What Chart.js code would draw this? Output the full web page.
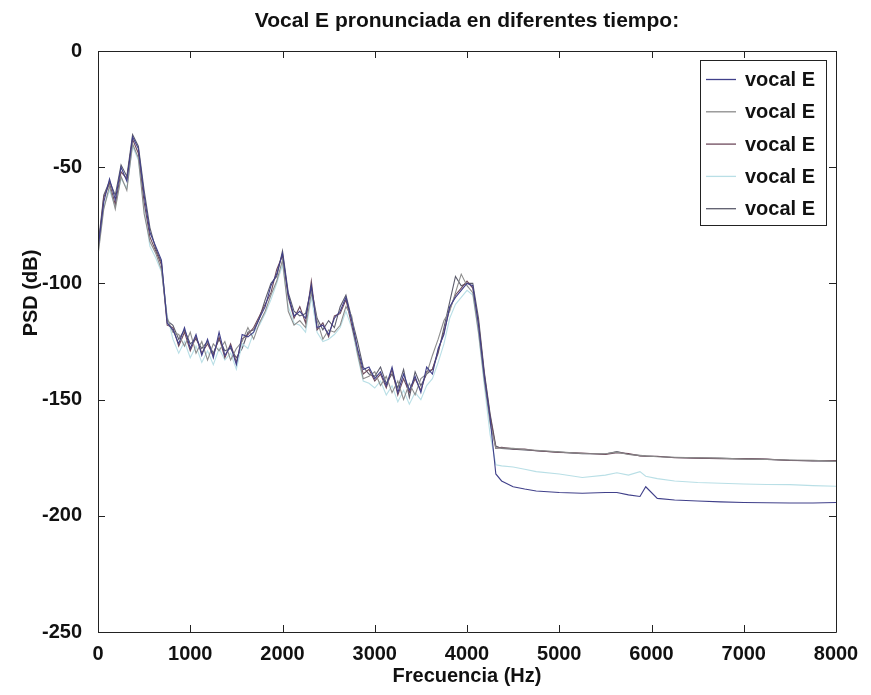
<!DOCTYPE html>
<html>
<head>
<meta charset="utf-8">
<title>Vocal E pronunciada en diferentes tiempo</title>
<script src="https://cdn.jsdelivr.net/npm/chart.js@4.4.1/dist/chart.umd.min.js"></script>
<style>
  html, body { margin: 0; padding: 0; background: #fff; }
  canvas { display: block; }
</style>
</head>
<body>
<canvas id="psdChart" width="871" height="695"></canvas>
<script>
// frequency bins (Hz): 62.5 Hz steps up to the cut-off, coarser in the flat tail
const freqs = [
  0, 62.5, 125, 187.5, 250, 312.5, 375, 437.5, 500, 562.5,
  625, 687.5, 750, 812.5, 875, 937.5, 1000, 1062.5, 1125, 1187.5,
  1250, 1312.5, 1375, 1437.5, 1500, 1562.5, 1625, 1687.5, 1750, 1812.5,
  1875, 1937.5, 2000, 2062.5, 2125, 2187.5, 2250, 2312.5, 2375, 2437.5,
  2500, 2562.5, 2625, 2687.5, 2750, 2812.5, 2875, 2937.5, 3000, 3062.5,
  3125, 3187.5, 3250, 3312.5, 3375, 3437.5, 3500, 3562.5, 3625, 3687.5,
  3750, 3812.5, 3875, 3937.5, 4000, 4062.5, 4125, 4187.5, 4250, 4312.5,
  4375, 4500, 4625, 4750, 5000, 5250, 5500, 5625, 5750, 5875,
  5937.5, 6062.5, 6250, 6500, 6750, 7000, 7250, 7500, 7750, 8000
];

// PSD in dB, one array per recording
const vocal1 = [
  -85, -65, -55, -64, -50, -56, -37, -42, -62, -78,
  -84, -90, -117, -120, -126, -119, -128, -122, -131, -124,
  -132, -121, -131, -127, -135, -122, -123, -121, -115, -110,
  -101, -96, -87, -105, -114, -112, -115, -101, -119, -118,
  -122, -115, -112, -106, -116, -128, -137, -136, -141, -138,
  -144, -136, -147, -139, -146, -140, -147, -136, -139, -128,
  -122, -110, -106, -103, -100, -101, -118, -140, -158, -182,
  -185, -187.5, -188.5, -189.3, -190, -190.3, -190, -190, -191, -191.7,
  -187.5, -192.5, -193.2, -193.6, -194, -194.3, -194.4, -194.5, -194.5, -194.3
];
const vocal2 = [
  -88, -68, -58, -68, -54, -60, -40, -46, -70, -82,
  -87, -94, -115, -121, -122, -127, -121, -130, -125, -133,
  -126, -129, -125, -133, -128, -125, -119, -124, -117, -112,
  -105, -99, -90, -112, -118, -116, -119, -104, -116, -124,
  -120, -121, -118, -110, -114, -130, -141, -140, -138, -144,
  -140, -147, -142, -150, -143, -148, -141, -139, -131, -124,
  -116, -112, -104, -96, -101, -104, -121, -142, -160, -171,
  -170.8, -171, -171.5, -171.8, -172.5, -173.2, -173.3, -172.6, -173.6, -174,
  -174.2, -174.6, -174.8, -175, -175.2, -175.6, -175.8, -176, -176.1, -176.6
];
const vocal3 = [
  -86, -63, -57, -66, -52, -55, -38, -44, -65, -80,
  -86, -92, -118, -119, -127, -121, -129, -123, -130, -126,
  -131, -123, -132, -126, -134, -124, -122, -119, -114, -109,
  -104, -94, -88, -106, -115, -110, -117, -99, -120, -117,
  -123, -114, -113, -107, -118, -129, -139, -137, -142, -139,
  -145, -137, -148, -141, -147, -141, -146, -138, -137, -129,
  -121, -111, -105, -102, -99, -102, -117, -139, -157, -171,
  -170.5, -171.2, -171.3, -172, -172.7, -173, -173.6, -172.8, -173.2, -174.2,
  -174.4, -174.4, -175, -175.2, -175.4, -175.4, -175.6, -176.2, -176.3, -176.2
];
const vocal4 = [
  -87, -67, -60, -67, -55, -59, -41, -47, -68, -84,
  -89, -95, -114, -124, -130, -125, -132, -127, -134, -129,
  -135, -128, -133, -130, -137, -126, -128, -121, -118, -113,
  -107, -100, -92, -110, -117, -118, -121, -106, -121, -125,
  -124, -122, -119, -112, -119, -131, -142, -143, -145, -142,
  -148, -144, -151, -146, -152, -147, -150, -144, -141, -134,
  -126, -115, -109, -106, -103, -105, -122, -144, -165, -178,
  -178.5, -179, -180, -181, -182, -183.5, -182.5, -181.5, -182.5, -181,
  -183, -184, -185, -185.7, -186, -186.3, -186.5, -186.6, -187, -187.3
];
const vocal5 = [
  -84, -62, -56, -62, -49, -54, -36, -41, -60, -76,
  -85, -91, -116, -118, -124, -120, -126, -124, -128, -125,
  -130, -124, -129, -128, -132, -128, -121, -120, -115, -107,
  -100, -97, -86, -104, -112, -114, -113, -102, -115, -120,
  -116, -119, -110, -105, -115, -125, -136, -139, -140, -136,
  -143, -139, -145, -137, -149, -138, -144, -139, -137, -130,
  -119, -108, -97, -101, -100, -100, -115, -138, -156, -170,
  -171, -171.3, -171.7, -172, -172.6, -173.3, -173.4, -172.4, -173.5, -174.1,
  -174.3, -174.5, -174.9, -175.1, -175.3, -175.5, -175.7, -176.1, -176.4, -176.5
];

const seriesLabels = ['vocal E', 'vocal E', 'vocal E', 'vocal E', 'vocal E'];
const seriesColors = ['#40408a', '#8c8c8c', '#6e4a5c', '#b9dfe6', '#5c5c6c'];
const allSeries = [vocal1, vocal2, vocal3, vocal4, vocal5];

const FONT = "'Liberation Sans', Arial, sans-serif";

// MATLAB-like frame: box, inward ticks, title, y label and legend inside the axes
const matlabAxes = {
  id: 'matlabAxes',
  afterDatasetsDraw(chart) {
    const ctx = chart.ctx;
    const a = chart.chartArea;
    const xs = chart.scales.x;
    const ys = chart.scales.y;
    ctx.save();
    ctx.strokeStyle = '#222';
    ctx.lineWidth = 1;
    ctx.beginPath();
    ctx.rect(Math.round(a.left) + 0.5, Math.round(a.top) + 0.5,
             Math.round(a.right - a.left), Math.round(a.bottom - a.top));
    xs.ticks.forEach(t => {
      const px = Math.round(xs.getPixelForValue(t.value)) + 0.5;
      ctx.moveTo(px, a.bottom); ctx.lineTo(px, a.bottom - 7);
      ctx.moveTo(px, a.top); ctx.lineTo(px, a.top + 7);
    });
    ys.ticks.forEach(t => {
      const py = Math.round(ys.getPixelForValue(t.value)) + 0.5;
      ctx.moveTo(a.left, py); ctx.lineTo(a.left + 7, py);
      ctx.moveTo(a.right, py); ctx.lineTo(a.right - 7, py);
    });
    ctx.stroke();

    // title
    ctx.fillStyle = '#111';
    ctx.font = 'bold 21px ' + FONT;
    ctx.textAlign = 'center';
    ctx.textBaseline = 'middle';
    ctx.fillText('Vocal E pronunciada en diferentes tiempo:', (a.left + a.right) / 2, 21);

    // y label
    ctx.save();
    ctx.translate(31, 293);
    ctx.rotate(-Math.PI / 2);
    ctx.font = 'bold 20px ' + FONT;
    ctx.fillText('PSD (dB)', 0, 0);
    ctx.restore();

    // legend
    const box = { left: 700, top: 60, right: 826, bottom: 225 };
    ctx.fillStyle = '#fff';
    ctx.fillRect(box.left, box.top, box.right - box.left, box.bottom - box.top);
    ctx.strokeStyle = '#222';
    ctx.strokeRect(box.left + 0.5, box.top + 0.5, box.right - box.left, box.bottom - box.top);
    ctx.font = 'bold 20px ' + FONT;
    ctx.textAlign = 'left';
    chart.data.datasets.forEach((ds, i) => {
      const y = box.top + 19.5 + i * 32.3;
      ctx.strokeStyle = ds.borderColor;
      ctx.lineWidth = 1.3;
      ctx.beginPath();
      ctx.moveTo(706, y); ctx.lineTo(736, y);
      ctx.stroke();
      ctx.fillStyle = '#111';
      ctx.fillText(ds.label, 745, y + 1);
    });
    ctx.restore();
  }
};

const datasets = allSeries.map((vals, i) => ({
  label: seriesLabels[i],
  data: freqs.map((f, j) => ({ x: f, y: vals[j] })),
  borderColor: seriesColors[i],
  borderWidth: 1.1,
  pointRadius: 0,
  tension: 0,
  fill: false
}));

new Chart(document.getElementById('psdChart'), {
  type: 'line',
  data: { datasets },
  options: {
    responsive: false,
    animation: false,
    devicePixelRatio: 1,
    layout: { padding: { top: 51, right: 35, left: 0, bottom: 0 } },
    plugins: {
      legend: { display: false },
      title: { display: false },
      tooltip: { enabled: false }
    },
    scales: {
      x: {
        type: 'linear',
        min: 0,
        max: 8000,
        afterFit: s => { s.height = 63; },
        grid: { display: false },
        border: { display: false },
        ticks: {
          stepSize: 1000,
          maxRotation: 0,
          autoSkip: false,
          padding: 2,
          color: '#111',
          font: { family: FONT, size: 20, weight: 'bold' },
          callback: v => String(v)
        },
        title: {
          display: true,
          text: 'Frecuencia (Hz)',
          color: '#111',
          font: { family: FONT, size: 20, weight: 'bold' },
          padding: { bottom: 7 }
        }
      },
      y: {
        min: -250,
        max: 0,
        afterFit: s => { s.width = 98; },
        grid: { display: false },
        border: { display: false },
        ticks: {
          stepSize: 50,
          padding: 8,
          color: '#111',
          font: { family: FONT, size: 20, weight: 'bold' },
          callback: v => String(v)
        },
        title: { display: false }
      }
    }
  },
  plugins: [matlabAxes]
});
</script>
</body>
</html>
